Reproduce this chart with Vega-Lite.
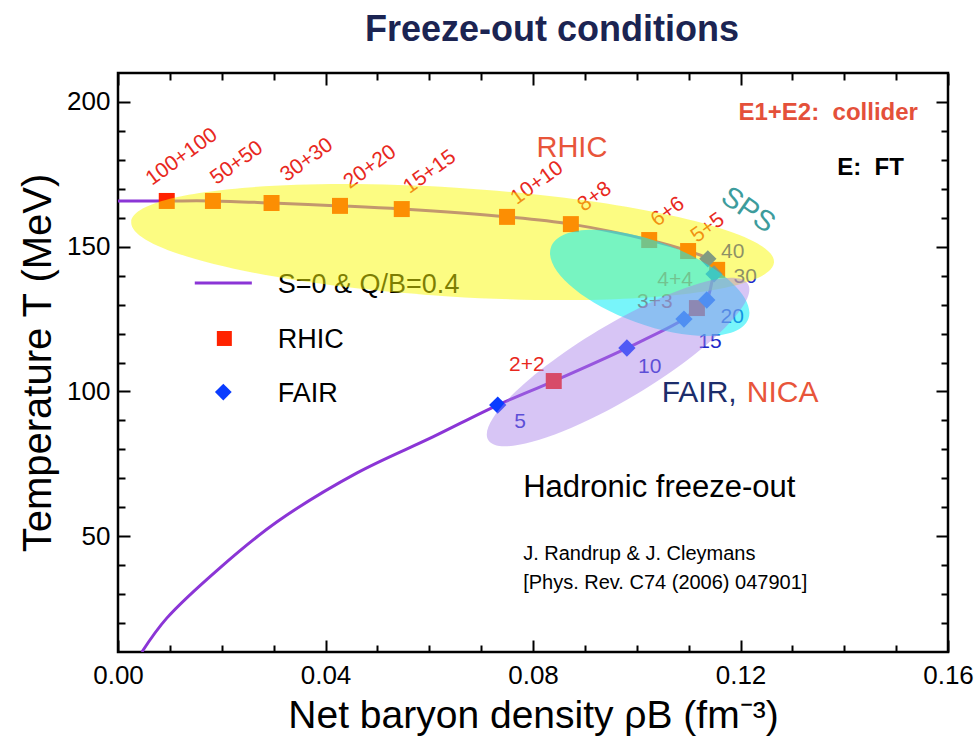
{
  "$schema": "https://vega.github.io/schema/vega-lite/v6.json",
  "width": 830,
  "height": 579,
  "autosize": "none",
  "padding": {"left": 118, "top": 73, "right": 30, "bottom": 98},
  "background": "white",
  "config": {"font": "Liberation Sans", "view": {"stroke": "black", "strokeWidth": 2.5}},
  "title": {"text": "Freeze-out conditions", "fontSize": 36, "fontWeight": "bold", "color": "#1b2452", "anchor": "middle", "dx": 19, "offset": -13, "baseline": "bottom", "font": "Liberation Sans"},
  "datasets": {
    "curve": [
      {"i": 0, "x": 0.0, "T": 165.8},
      {"i": 1, "x": 0.0094, "T": 165.8},
      {"i": 2, "x": 0.0183, "T": 165.8},
      {"i": 3, "x": 0.0296, "T": 165.1},
      {"i": 4, "x": 0.0428, "T": 164.1},
      {"i": 5, "x": 0.0547, "T": 163.0},
      {"i": 6, "x": 0.0750, "T": 160.3},
      {"i": 7, "x": 0.0873, "T": 157.8},
      {"i": 8, "x": 0.1024, "T": 152.3},
      {"i": 9, "x": 0.1099, "T": 148.5},
      {"i": 10, "x": 0.1137, "T": 145.8},
      {"i": 11, "x": 0.1155, "T": 142.0},
      {"i": 12, "x": 0.1149, "T": 140.6},
      {"i": 13, "x": 0.1135, "T": 131.6},
      {"i": 14, "x": 0.1116, "T": 128.8},
      {"i": 15, "x": 0.1091, "T": 125.0},
      {"i": 16, "x": 0.0981, "T": 115.0},
      {"i": 17, "x": 0.0840, "T": 103.6},
      {"i": 18, "x": 0.0732, "T": 95.3},
      {"i": 19, "x": 0.0607, "T": 84.3},
      {"i": 20, "x": 0.0460, "T": 71.8},
      {"i": 21, "x": 0.0306, "T": 54.9},
      {"i": 22, "x": 0.0196, "T": 39.0},
      {"i": 23, "x": 0.0094, "T": 21.7},
      {"i": 24, "x": 0.0046, "T": 10.0}
    ],
    "rhic": [
      {"label": "100+100", "x": 0.0094, "T": 165.8},
      {"label": "50+50", "x": 0.0183, "T": 165.8},
      {"label": "30+30", "x": 0.0296, "T": 165.1},
      {"label": "20+20", "x": 0.0428, "T": 164.1},
      {"label": "15+15", "x": 0.0547, "T": 163.0},
      {"label": "10+10", "x": 0.0750, "T": 160.3},
      {"label": "8+8", "x": 0.0873, "T": 157.8},
      {"label": "6+6", "x": 0.1024, "T": 152.3},
      {"label": "5+5", "x": 0.1099, "T": 148.5},
      {"label": "4+4", "x": 0.1155, "T": 142.0},
      {"label": "3+3", "x": 0.1116, "T": 128.8},
      {"label": "2+2", "x": 0.0840, "T": 103.6}
    ],
    "fair": [
      {"label": "5", "x": 0.0732, "T": 95.3},
      {"label": "10", "x": 0.0981, "T": 115.0},
      {"label": "15", "x": 0.1091, "T": 125.0},
      {"label": "20", "x": 0.1135, "T": 131.6},
      {"label": "30", "x": 0.1149, "T": 140.6},
      {"label": "40", "x": 0.1137, "T": 145.8}
    ],
    "rotLabels": [
      {"text": "100+100", "x": 0.0123, "T": 181.0},
      {"text": "50+50", "x": 0.0229, "T": 178.9},
      {"text": "30+30", "x": 0.0364, "T": 179.9},
      {"text": "20+20", "x": 0.0486, "T": 177.5},
      {"text": "15+15", "x": 0.0601, "T": 175.8},
      {"text": "10+10", "x": 0.0808, "T": 172.0},
      {"text": "8+8", "x": 0.0919, "T": 167.2},
      {"text": "6+6", "x": 0.1060, "T": 162.0},
      {"text": "5+5", "x": 0.1137, "T": 156.5}
    ],
    "redLabels": [
      {"text": "4+4", "x": 0.1074, "T": 138.5},
      {"text": "3+3", "x": 0.1035, "T": 130.9},
      {"text": "2+2", "x": 0.0788, "T": 109.1}
    ],
    "blueLabels": [
      {"text": "5", "x": 0.0775, "T": 89.4},
      {"text": "10", "x": 0.1025, "T": 108.4},
      {"text": "15", "x": 0.1141, "T": 117.1},
      {"text": "20", "x": 0.1184, "T": 125.7},
      {"text": "30", "x": 0.1209, "T": 139.5},
      {"text": "40", "x": 0.1185, "T": 148.2}
    ]
  },
  "resolve": {"axis": {"x": "independent", "y": "independent"}},
  "layer": [
    {
      "data": {"name": "curve"},
      "mark": {"type": "line", "color": "#8b35d6", "strokeWidth": 3, "interpolate": "catmull-rom", "clip": true},
      "encoding": {
        "x": {"field": "x", "type": "quantitative", "scale": {"domain": [0, 0.16], "nice": false, "zero": false},
          "axis": {"orient": "bottom", "values": [0, 0.04, 0.08, 0.12, 0.16], "format": ".2f", "title": "Net baryon density ρB (fm⁻³)", "titleFontSize": 39, "titleFontWeight": "normal", "titleColor": "black", "titlePadding": 8, "labelFontSize": 26, "labelColor": "black", "labelPadding": 22, "labelFlush": false, "labelOverlap": false, "tickSize": -12, "tickWidth": 2, "tickColor": "black", "domain": false, "grid": false}},
        "y": {"field": "T", "type": "quantitative", "scale": {"domain": [10, 210], "nice": false, "zero": false},
          "axis": {"orient": "left", "values": [50, 100, 150, 200], "title": "Temperature T (MeV)", "titleFontSize": 40, "titleFontWeight": "normal", "titleColor": "black", "titlePadding": 8, "labelFontSize": 26, "labelColor": "black", "labelPadding": 20, "labelFlush": false, "labelOverlap": false, "tickSize": -12, "tickWidth": 2, "tickColor": "black", "domain": false, "grid": false}},
        "order": {"field": "i", "type": "quantitative"}
      }
    },
    {
      "data": {"name": "rhic"},
      "mark": {"type": "point", "shape": "square", "filled": true, "color": "#ff2200", "size": 256, "opacity": 1},
      "encoding": {
        "x": {"field": "x", "type": "quantitative",
          "axis": {"orient": "bottom", "values": [0.01, 0.02, 0.03, 0.05, 0.06, 0.07, 0.09, 0.10, 0.11, 0.13, 0.14, 0.15], "labels": false, "title": null, "tickSize": -7, "tickWidth": 2, "tickColor": "black", "domain": false, "grid": false}},
        "y": {"field": "T", "type": "quantitative",
          "axis": {"orient": "left", "values": [20, 30, 40, 60, 70, 80, 90, 110, 120, 130, 140, 160, 170, 180, 190], "labels": false, "title": null, "tickSize": -7, "tickWidth": 2, "tickColor": "black", "domain": false, "grid": false}}
      }
    },
    {
      "data": {"name": "fair"},
      "mark": {"type": "point", "shape": "diamond", "filled": true, "color": "#0a3cff", "size": 300, "opacity": 1},
      "encoding": {
        "x": {"field": "x", "type": "quantitative",
          "axis": {"orient": "top", "values": [0, 0.04, 0.08, 0.12, 0.16], "labels": false, "title": null, "tickSize": -12, "tickWidth": 2, "tickColor": "black", "domain": false, "grid": false}},
        "y": {"field": "T", "type": "quantitative",
          "axis": {"orient": "right", "values": [50, 100, 150, 200], "labels": false, "title": null, "tickSize": -12, "tickWidth": 2, "tickColor": "black", "domain": false, "grid": false}}
      }
    },
    {
      "data": {"name": "rotLabels"},
      "mark": {"type": "text", "align": "center", "baseline": "middle", "angle": -36, "fontSize": 21, "color": "#e8281e"},
      "encoding": {
        "x": {"field": "x", "type": "quantitative",
          "axis": {"orient": "top", "values": [0.01, 0.02, 0.03, 0.05, 0.06, 0.07, 0.09, 0.10, 0.11, 0.13, 0.14, 0.15], "labels": false, "title": null, "tickSize": -7, "tickWidth": 2, "tickColor": "black", "domain": false, "grid": false}},
        "y": {"field": "T", "type": "quantitative",
          "axis": {"orient": "right", "values": [20, 30, 40, 60, 70, 80, 90, 110, 120, 130, 140, 160, 170, 180, 190], "labels": false, "title": null, "tickSize": -7, "tickWidth": 2, "tickColor": "black", "domain": false, "grid": false}},
        "text": {"field": "text"}
      }
    },
    {
      "data": {"name": "redLabels"},
      "mark": {"type": "text", "align": "center", "baseline": "middle", "fontSize": 21, "color": "#e8281e"},
      "encoding": {
        "x": {"field": "x", "type": "quantitative", "axis": null},
        "y": {"field": "T", "type": "quantitative", "axis": null},
        "text": {"field": "text"}
      }
    },
    {
      "data": {"name": "blueLabels"},
      "mark": {"type": "text", "align": "center", "baseline": "middle", "fontSize": 21, "color": "#1e28c8"},
      "encoding": {
        "x": {"field": "x", "type": "quantitative", "axis": null},
        "y": {"field": "T", "type": "quantitative", "axis": null},
        "text": {"field": "text"}
      }
    },
    {
      "data": {"values": [{"x": 0.0148, "x2": 0.0258, "T": 137.5}]},
      "mark": {"type": "rule", "color": "#8b35d6", "strokeWidth": 3},
      "encoding": {
        "x": {"field": "x", "type": "quantitative", "axis": null},
        "x2": {"field": "x2"},
        "y": {"field": "T", "type": "quantitative", "axis": null}
      }
    },
    {
      "data": {"values": [{"item": "RHIC", "x": 0.0205, "T": 118.3}]},
      "mark": {"type": "point", "shape": "square", "filled": true, "color": "#ff2200", "size": 225, "opacity": 1},
      "encoding": {
        "x": {"field": "x", "type": "quantitative", "axis": null},
        "y": {"field": "T", "type": "quantitative", "axis": null}
      }
    },
    {
      "data": {"values": [{"item": "FAIR", "x": 0.0203, "T": 99.8}]},
      "mark": {"type": "point", "shape": "diamond", "filled": true, "color": "#0a3cff", "size": 280, "opacity": 1},
      "encoding": {
        "x": {"field": "x", "type": "quantitative", "axis": null},
        "y": {"field": "T", "type": "quantitative", "axis": null}
      }
    },
    {
      "data": {"values": [
        {"text": "S=0 & Q/B=0.4", "x": 0.0308, "T": 134.0},
        {"text": "RHIC", "x": 0.0308, "T": 115.0},
        {"text": "FAIR", "x": 0.0308, "T": 96.4}
      ]},
      "mark": {"type": "text", "align": "left", "baseline": "alphabetic", "fontSize": 27, "color": "black"},
      "encoding": {
        "x": {"field": "x", "type": "quantitative", "axis": null},
        "y": {"field": "T", "type": "quantitative", "axis": null},
        "text": {"field": "text"}
      }
    },
    {
      "data": {"values": [{"text": "RHIC", "x": 0.0875, "T": 184.1}]},
      "mark": {"type": "text", "align": "center", "baseline": "middle", "fontSize": 29, "color": "#e8553a"},
      "encoding": {
        "x": {"field": "x", "type": "quantitative", "axis": null},
        "y": {"field": "T", "type": "quantitative", "axis": null},
        "text": {"field": "text"}
      }
    },
    {
      "data": {"values": [{"text": "SPS", "x": 0.1215, "T": 162.7}]},
      "mark": {"type": "text", "align": "center", "baseline": "middle", "angle": 35, "fontSize": 29, "color": "#3d9c9c"},
      "encoding": {
        "x": {"field": "x", "type": "quantitative", "axis": null},
        "y": {"field": "T", "type": "quantitative", "axis": null},
        "text": {"field": "text"}
      }
    },
    {
      "data": {"values": [{"text": "FAIR,", "x": 0.1048, "T": 96.4}]},
      "mark": {"type": "text", "align": "left", "baseline": "alphabetic", "fontSize": 30, "color": "#1c2d6b"},
      "encoding": {
        "x": {"field": "x", "type": "quantitative", "axis": null},
        "y": {"field": "T", "type": "quantitative", "axis": null},
        "text": {"field": "text"}
      }
    },
    {
      "data": {"values": [{"text": "NICA", "x": 0.1212, "T": 96.4}]},
      "mark": {"type": "text", "align": "left", "baseline": "alphabetic", "fontSize": 30, "color": "#e8553a"},
      "encoding": {
        "x": {"field": "x", "type": "quantitative", "axis": null},
        "y": {"field": "T", "type": "quantitative", "axis": null},
        "text": {"field": "text"}
      }
    },
    {
      "data": {"values": [{"text": "Hadronic freeze-out", "x": 0.0781, "T": 63.5}]},
      "mark": {"type": "text", "align": "left", "baseline": "alphabetic", "fontSize": 31, "color": "black"},
      "encoding": {
        "x": {"field": "x", "type": "quantitative", "axis": null},
        "y": {"field": "T", "type": "quantitative", "axis": null},
        "text": {"field": "text"}
      }
    },
    {
      "data": {"values": [
        {"text": "J. Randrup & J. Cleymans", "x": 0.0781, "T": 41.8},
        {"text": "[Phys. Rev. C74 (2006) 047901]", "x": 0.0781, "T": 31.8}
      ]},
      "mark": {"type": "text", "align": "left", "baseline": "alphabetic", "fontSize": 20, "color": "black"},
      "encoding": {
        "x": {"field": "x", "type": "quantitative", "axis": null},
        "y": {"field": "T", "type": "quantitative", "axis": null},
        "text": {"field": "text"}
      }
    },
    {
      "data": {"values": [{"text": "E1+E2:\u00a0 collider", "x": 0.1542, "T": 193.8}]},
      "mark": {"type": "text", "align": "right", "baseline": "alphabetic", "fontSize": 24, "fontWeight": "bold", "color": "#e4503a"},
      "encoding": {
        "x": {"field": "x", "type": "quantitative", "axis": null},
        "y": {"field": "T", "type": "quantitative", "axis": null},
        "text": {"field": "text"}
      }
    },
    {
      "data": {"values": [{"text": "E:\u00a0 FT", "x": 0.1515, "T": 174.8}]},
      "mark": {"type": "text", "align": "right", "baseline": "alphabetic", "fontSize": 24, "fontWeight": "bold", "color": "black"},
      "encoding": {
        "x": {"field": "x", "type": "quantitative", "axis": null},
        "y": {"field": "T", "type": "quantitative", "axis": null},
        "text": {"field": "text"}
      }
    },
    {
      "data": {"values": [{"region": "RHIC", "x": 0.0645, "T": 151.6}]},
      "mark": {"type": "point", "filled": true, "color": "#fafa05", "opacity": 0.5, "size": 414736, "angle": 3.6, "strokeWidth": 0,
        "shape": "M-1,0C-1,-0.0933,-0.5523,-0.169,0,-0.169C0.5523,-0.169,1,-0.0933,1,0C1,0.0933,0.5523,0.169,0,0.169C-0.5523,0.169,-1,0.0933,-1,0Z"},
      "encoding": {
        "x": {"field": "x", "type": "quantitative", "axis": null},
        "y": {"field": "T", "type": "quantitative", "axis": null}
      }
    },
    {
      "data": {"values": [{"region": "SPS", "x": 0.1025, "T": 137.5}]},
      "mark": {"type": "point", "filled": true, "color": "#0aecf5", "opacity": 0.55, "size": 44100, "angle": 20, "strokeWidth": 0,
        "shape": "M-1,0C-1,-0.2193,-0.5523,-0.397,0,-0.397C0.5523,-0.397,1,-0.2193,1,0C1,0.2193,0.5523,0.397,0,0.397C-0.5523,0.397,-1,0.2193,-1,0Z"},
      "encoding": {
        "x": {"field": "x", "type": "quantitative", "axis": null},
        "y": {"field": "T", "type": "quantitative", "axis": null}
      }
    },
    {
      "data": {"values": [{"region": "FAIR", "x": 0.0964, "T": 110.2}]},
      "mark": {"type": "point", "filled": true, "color": "#a77ee8", "opacity": 0.45, "size": 91809, "angle": -31, "strokeWidth": 0,
        "shape": "M-1,0C-1,-0.1353,-0.5523,-0.245,0,-0.245C0.5523,-0.245,1,-0.1353,1,0C1,0.1353,0.5523,0.245,0,0.245C-0.5523,0.245,-1,0.1353,-1,0Z"},
      "encoding": {
        "x": {"field": "x", "type": "quantitative", "axis": null},
        "y": {"field": "T", "type": "quantitative", "axis": null}
      }
    }
  ]
}
